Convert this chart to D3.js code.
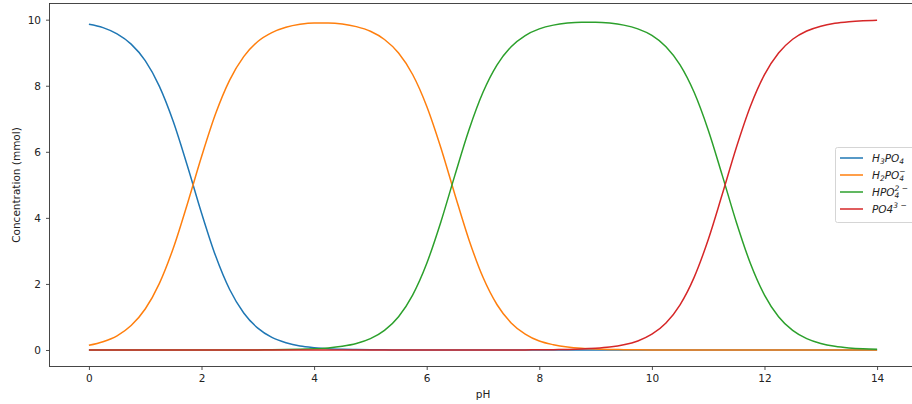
<!DOCTYPE html>
<html>
<head>
<meta charset="utf-8">
<script src="https://cdn.jsdelivr.net/npm/d3@7"></script>
<style>
  html, body { margin: 0; padding: 0; background: #fff; }
  svg { display: block; font-family: "DejaVu Sans", sans-serif; }
</style>
</head>
<body>
<svg id="chart" width="912" height="404"></svg>
<script>
// pH sample points (step 0.25)
const pH = [0, 0.25, 0.5, 0.75, 1, 1.25, 1.5, 1.75, 2, 2.25, 2.5, 2.75, 3, 3.25, 3.5, 3.75,
            4, 4.25, 4.5, 4.75, 5, 5.25, 5.5, 5.75, 6, 6.25, 6.5, 6.75, 7, 7.25, 7.5, 7.75,
            8, 8.25, 8.5, 8.75, 9, 9.25, 9.5, 9.75, 10, 10.25, 10.5, 10.75, 11, 11.25, 11.5, 11.75,
            12, 12.25, 12.5, 12.75, 13, 13.25, 13.5, 13.75, 14];

// Concentrations (mmol) of each phosphate species
const h3po4 = [9.86, 9.76, 9.57, 9.26, 8.76, 7.99, 6.91, 5.57, 4.15, 2.85, 1.83, 1.12, 0.66, 0.38, 0.22, 0.12,
               0.07, 0.039, 0.022, 0.012, 0.007, 0.004, 0.002, 0.001, 0.0006, 0, 0, 0, 0, 0, 0, 0,
               0, 0, 0, 0, 0, 0, 0, 0, 0, 0, 0, 0, 0, 0, 0, 0,
               0, 0, 0, 0, 0, 0, 0, 0, 0];
const h2po4 = [0.14, 0.25, 0.43, 0.74, 1.24, 2.01, 3.09, 4.43, 5.85, 7.15, 8.17, 8.88, 9.34, 9.61, 9.77, 9.86,
               9.90, 9.90, 9.87, 9.79, 9.65, 9.40, 8.99, 8.34, 7.38, 6.13, 4.71, 3.34, 2.20, 1.37, 0.82, 0.48,
               0.27, 0.16, 0.09, 0.05, 0.028, 0.016, 0.009, 0.005, 0.003, 0.002, 0.001, 0.0005, 0, 0, 0, 0,
               0, 0, 0, 0, 0, 0, 0, 0, 0];
const hpo4 = [0, 0, 0, 0, 0, 0, 0, 0, 0, 0, 0.001, 0.002, 0.003, 0.006, 0.011, 0.020,
              0.035, 0.062, 0.111, 0.195, 0.342, 0.593, 1.009, 1.663, 2.619, 3.869, 5.287, 6.661, 7.801, 8.632, 9.181, 9.520,
              9.721, 9.835, 9.896, 9.922, 9.922, 9.896, 9.835, 9.721, 9.523, 9.182, 8.632, 7.801, 6.661, 5.287, 3.869, 2.619,
              1.663, 1.009, 0.593, 0.343, 0.196, 0.111, 0.063, 0.035, 0.020];
const po4 = [0, 0, 0, 0, 0, 0, 0, 0, 0, 0, 0, 0, 0, 0, 0, 0,
             0, 0, 0, 0, 0, 0, 0, 0, 0, 0, 0, 0, 0, 0, 0.0015, 0.003,
             0.005, 0.009, 0.016, 0.028, 0.050, 0.088, 0.156, 0.274, 0.477, 0.818, 1.368, 2.199, 3.339, 4.713, 6.131, 7.381,
             8.337, 8.991, 9.407, 9.657, 9.804, 9.889, 9.937, 9.965, 9.980];

const seriesColors = ["#1f77b4", "#ff7f0e", "#2ca02c", "#d62728"];
const seriesValues = [h3po4, h2po4, hpo4, po4];

const xTicks = [0, 2, 4, 6, 8, 10, 12, 14];
const yTicks = [0, 2, 4, 6, 8, 10];

const svg = d3.select("#chart");
const plot = { left: 49.5, top: 3.5, right: 916.5, bottom: 366.5 };

const x = d3.scaleLinear().domain([-0.7, 14.7]).range([plot.left, plot.right]);
const y = d3.scaleLinear().domain([-0.5, 10.49]).range([plot.bottom, plot.top]);

// Axes
const xAxis = d3.axisBottom(x).tickValues(xTicks).tickSize(3.5).tickPadding(5).tickFormat(d3.format("d"));
const yAxis = d3.axisLeft(y).tickValues(yTicks).tickSize(3.5).tickPadding(5).tickFormat(d3.format("d"));

const gx = svg.append("g").attr("transform", `translate(0,${plot.bottom})`).call(xAxis);
const gy = svg.append("g").attr("transform", `translate(${plot.left},0)`).call(yAxis);
[gx, gy].forEach(g => {
  g.select(".domain").remove();
  g.selectAll(".tick line").attr("stroke", "#222").attr("stroke-width", 0.8);
  g.selectAll(".tick text").attr("fill", "#222").style("font-size", "10.5px")
    .style("font-family", "'DejaVu Sans', sans-serif");
});

// Frame
svg.append("rect")
  .attr("x", plot.left).attr("y", plot.top)
  .attr("width", plot.right - plot.left).attr("height", plot.bottom - plot.top)
  .attr("fill", "none").attr("stroke", "#333").attr("stroke-width", 0.9);

// Axis titles
svg.append("text")
  .attr("x", (plot.left + plot.right) / 2).attr("y", 398)
  .attr("text-anchor", "middle").attr("fill", "#222").style("font-size", "10.5px")
  .text("pH");
svg.append("text")
  .attr("transform", `translate(20,${(plot.top + plot.bottom) / 2}) rotate(-90)`)
  .attr("text-anchor", "middle").attr("fill", "#222").style("font-size", "10.5px")
  .text("Concentration (mmol)");

// Curves
const line = d3.line()
  .x((d, i) => x(pH[i]))
  .y(d => y(d))
  .curve(d3.curveMonotoneX);

svg.append("clipPath").attr("id", "plotclip")
  .append("rect").attr("x", plot.left).attr("y", plot.top)
  .attr("width", plot.right - plot.left).attr("height", plot.bottom - plot.top);

svg.append("g").attr("clip-path", "url(#plotclip)")
  .selectAll("path").data(seriesValues).join("path")
  .attr("d", d => line(d))
  .attr("fill", "none")
  .attr("stroke", (d, i) => seriesColors[i])
  .attr("stroke-width", 1.5)
  .attr("stroke-linejoin", "round");

// Legend
const legend = svg.append("g");
legend.append("rect")
  .attr("x", 835.5).attr("y", 147.5).attr("width", 90).attr("height", 75)
  .attr("rx", 2).attr("fill", "#fff").attr("fill-opacity", 0.8)
  .attr("stroke", "#d0d0d0").attr("stroke-width", 0.9);

const legendRows = [158, 175, 192, 209];
legendRows.forEach((ry, i) => {
  legend.append("line")
    .attr("x1", 840).attr("x2", 863).attr("y1", ry).attr("y2", ry)
    .attr("stroke", seriesColors[i]).attr("stroke-width", 1.5);
});

// Labels with chemical subscripts / superscripts (superscript stacked over a preceding subscript)
function addLabel(ry, parts) {
  const t = legend.append("text")
    .attr("x", 872).attr("y", ry + 3.8)
    .attr("fill", "#222").style("font-size", "10.5px").style("font-style", "italic");
  let lastSub = null;
  parts.forEach(p => {
    const s = t.append("tspan").text(p.t);
    if (p.sub) {
      s.attr("dy", 2.6).style("font-size", "7.5px");
      lastSub = s;
    } else if (p.sup) {
      s.style("font-size", "7.5px");
      if (lastSub) {
        const w = lastSub.node().getComputedTextLength();
        s.attr("dx", -w).attr("dy", -7.2);
      } else {
        s.attr("dy", -4.6);
      }
      lastSub = null;
    } else {
      if (lastSub) s.attr("dy", -2.6);
      lastSub = null;
    }
  });
}
addLabel(legendRows[0], [{t: "H"}, {t: "3", sub: true}, {t: "PO"}, {t: "4", sub: true}]);
addLabel(legendRows[1], [{t: "H"}, {t: "2", sub: true}, {t: "PO"}, {t: "4", sub: true}, {t: "−", sup: true}]);
addLabel(legendRows[2], [{t: "HPO"}, {t: "4", sub: true}, {t: "2 −", sup: true}]);
addLabel(legendRows[3], [{t: "PO4"}, {t: "3 −", sup: true}]);
</script>
</body>
</html>
